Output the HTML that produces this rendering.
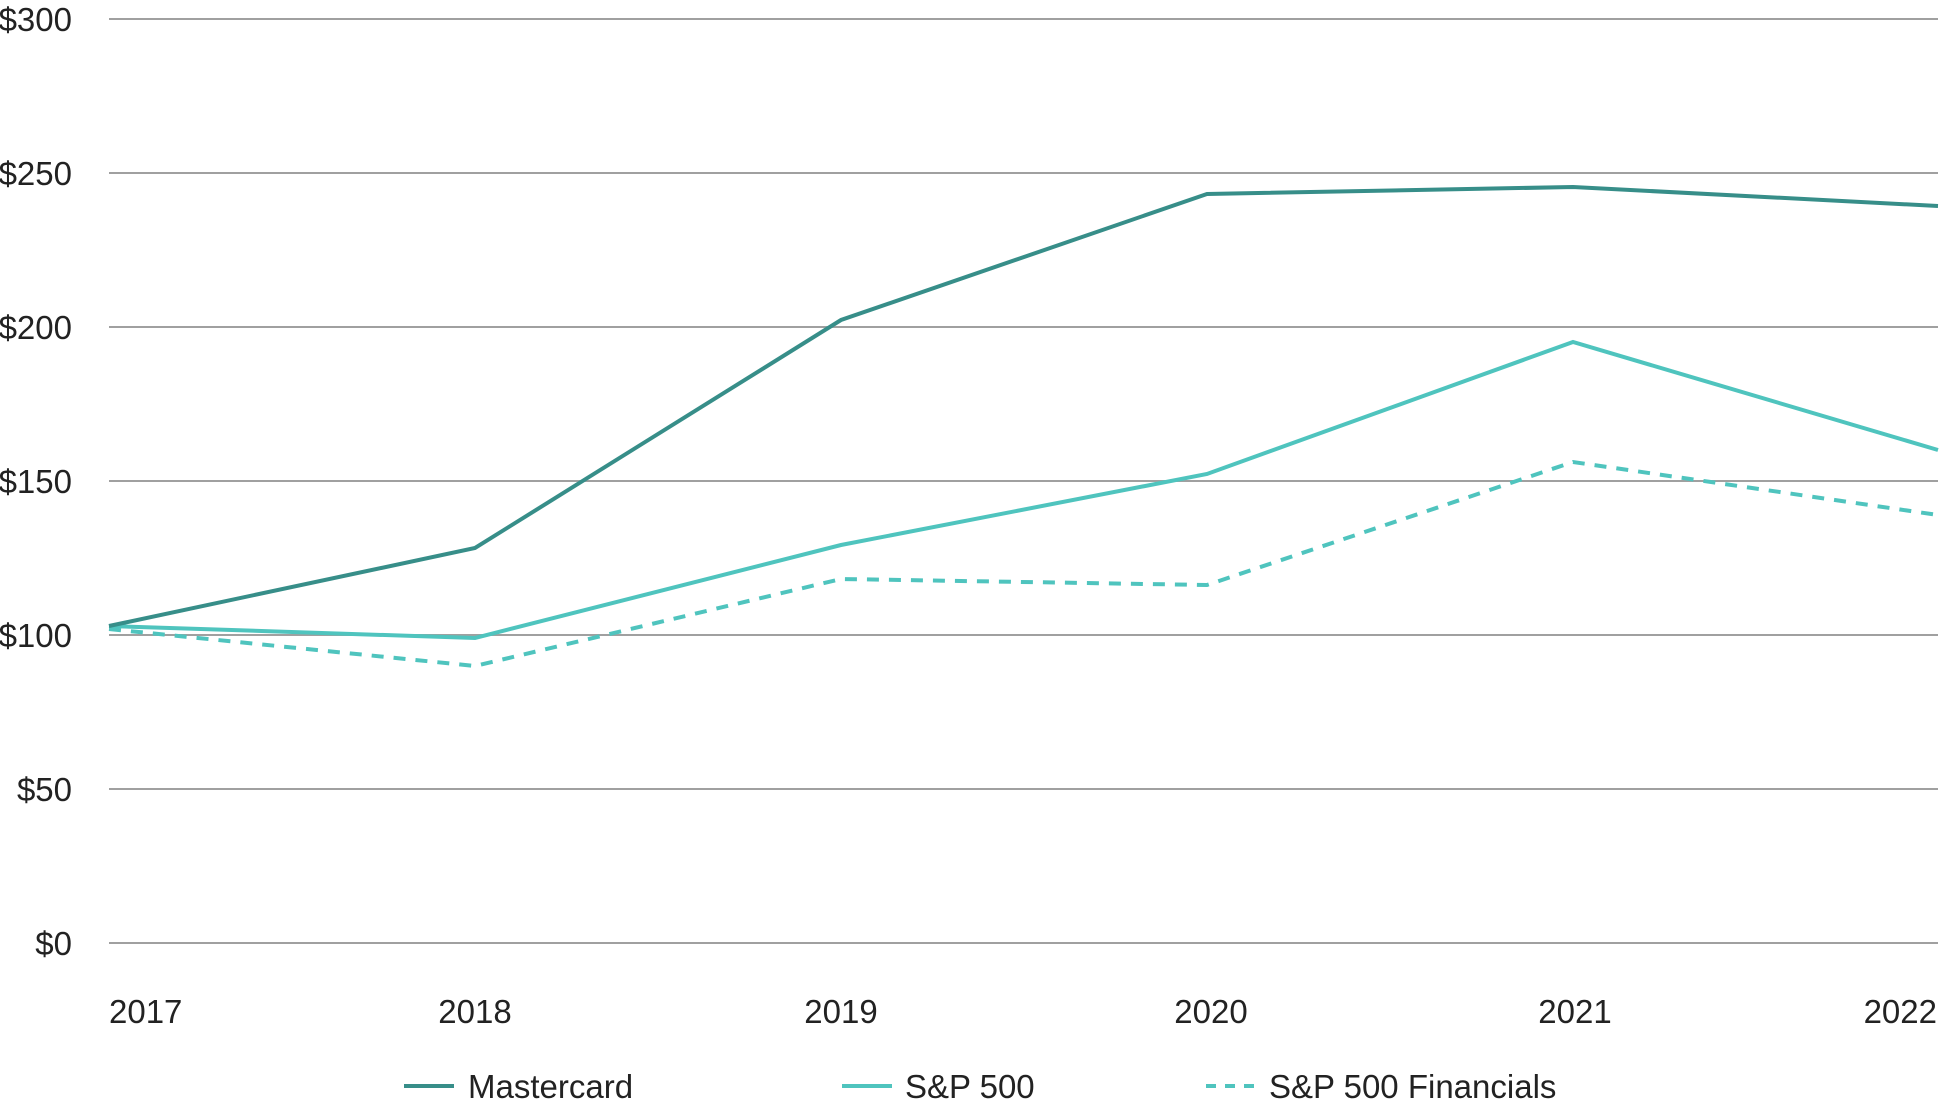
<!DOCTYPE html>
<html><head><meta charset="utf-8"><style>
html,body{margin:0;padding:0;background:#fff;}
svg text{font-family:"Liberation Sans",sans-serif;fill:#222;}
</style></head><body>
<svg width="1939" height="1109" viewBox="0 0 1939 1109" xmlns="http://www.w3.org/2000/svg">
<g stroke="#a0a0a0" stroke-width="2">
<line x1="109" x2="1938" y1="19" y2="19"/>
<line x1="109" x2="1938" y1="173" y2="173"/>
<line x1="109" x2="1938" y1="327" y2="327"/>
<line x1="109" x2="1938" y1="481" y2="481"/>
<line x1="109" x2="1938" y1="635" y2="635"/>
<line x1="109" x2="1938" y1="789" y2="789"/>
<line x1="109" x2="1938" y1="943" y2="943"/>
</g>
<g font-size="33" text-anchor="end">
<text x="72" y="31">$300</text>
<text x="72" y="185">$250</text>
<text x="72" y="339">$200</text>
<text x="72" y="493">$150</text>
<text x="72" y="647">$100</text>
<text x="72" y="801">$50</text>
<text x="72" y="955">$0</text>
</g>
<g font-size="33">
<text x="109" y="1023">2017</text>
<text x="475" y="1023" text-anchor="middle">2018</text>
<text x="841" y="1023" text-anchor="middle">2019</text>
<text x="1211" y="1023" text-anchor="middle">2020</text>
<text x="1575" y="1023" text-anchor="middle">2021</text>
<text x="1937" y="1023" text-anchor="end">2022</text>
</g>
<polyline fill="none" stroke="#4fc4be" stroke-width="4" stroke-dasharray="12,10" points="109,629 475,666 841,579 1207,585 1573,462 1938,515"/>
<polyline fill="none" stroke="#4fc4be" stroke-width="4" points="109,626 475,638 841,545 1207,474 1573,342 1938,450"/>
<polyline fill="none" stroke="#378e89" stroke-width="4" points="109,626 475,548 841,320 1207,194 1573,187 1938,206"/>
<line x1="404" x2="454" y1="1086" y2="1086" stroke="#378e89" stroke-width="4"/>
<line x1="842" x2="892" y1="1086" y2="1086" stroke="#4fc4be" stroke-width="4"/>
<line x1="1206" x2="1256" y1="1086" y2="1086" stroke="#4fc4be" stroke-width="4" stroke-dasharray="10,9"/>
<g font-size="33">
<text x="468" y="1098">Mastercard</text>
<text x="905" y="1098">S&amp;P 500</text>
<text x="1269" y="1098">S&amp;P 500 Financials</text>
</g>
</svg>
</body></html>
